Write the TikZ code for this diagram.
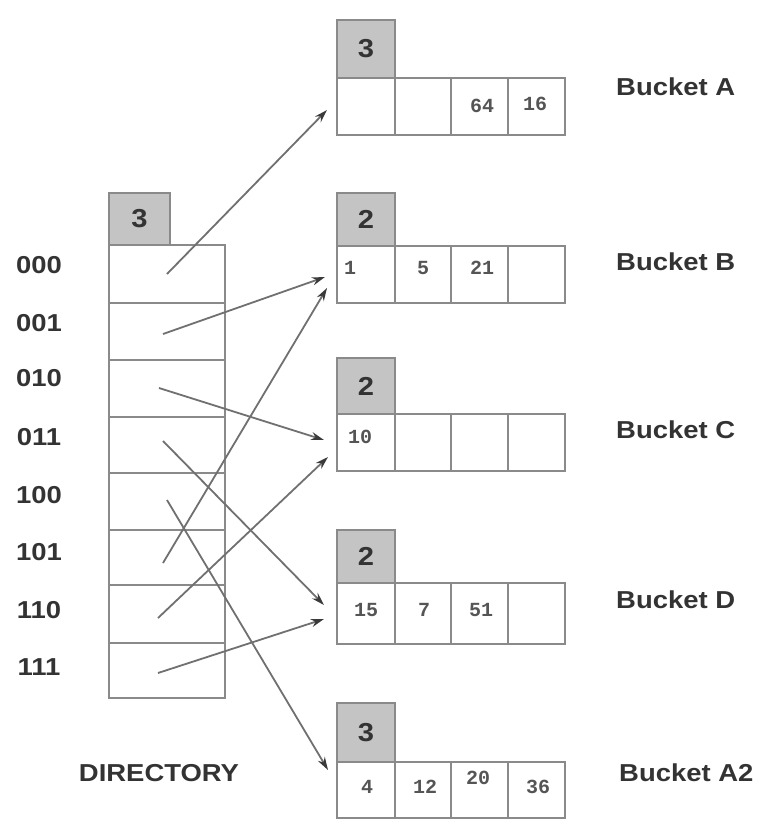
\documentclass[tikz,border=0pt]{standalone}
\usepackage{fontspec}
\setmainfont{Liberation Sans}[FakeStretch=1.12]
\newfontfamily\monof{Liberation Mono}
\usetikzlibrary{arrows.meta}
\definecolor{boxline}{HTML}{8A8A8A}
\definecolor{boxfill}{HTML}{C4C4C4}
\definecolor{arrowc}{HTML}{707070}
\definecolor{tipc}{HTML}{3A3A3A}
\definecolor{numc}{HTML}{555555}
\definecolor{txtc}{HTML}{333333}
\newcommand\mkbucket[5]{% name, gray top, cell top, cell bottom, level
  \pgfmathsetmacro{\gh}{#3-#2}\pgfmathsetmacro{\ch}{#4-#3}
  \node[graybox,minimum width=58pt,minimum height=\gh pt,anchor=north west] (#1g) at (337,#2) {#5};
  \node[cellbox,minimum width=58pt,minimum height=\ch pt,anchor=north west] (#1c1) at (337,#3) {};
  \node[cellbox,minimum width=56pt,minimum height=\ch pt,anchor=north west] (#1c2) at (395,#3) {};
  \node[cellbox,minimum width=57pt,minimum height=\ch pt,anchor=north west] (#1c3) at (451,#3) {};
  \node[cellbox,minimum width=57pt,minimum height=\ch pt,anchor=north west] (#1c4) at (508,#3) {};
}
\begin{document}
\begin{tikzpicture}[x=1pt,y=-1pt,
  cellbox/.style={draw=boxline,line width=2.8pt,fill=white,rectangle,inner sep=0pt,outer sep=0pt},
  graybox/.style={draw=boxline,line width=2.8pt,fill=boxfill,rectangle,inner sep=0pt,outer sep=0pt,
     font=\fontsize{26}{26}\selectfont\bfseries,text=txtc},
  num/.style={font=\monof\fontsize{20}{20}\selectfont\bfseries,text=numc,inner sep=0pt},
  lbl/.style={font=\fontsize{24.5}{24.5}\selectfont\bfseries,text=txtc,inner sep=0pt},
  ptr/.style={draw=arrowc,line width=1.8pt,-{Stealth[length=13pt,width=8pt,color=tipc]}}]
\useasboundingbox (0,0) rectangle (767,836);
% ---------- directory ----------
\node[graybox,minimum width=61pt,minimum height=52pt,anchor=north west] (dg) at (109,193) {3};
\foreach \i/\ya/\yb in {0/245/303,1/303/360,2/360/417,3/417/473,4/473/530,5/530/585,6/585/643,7/643/698}{
  \pgfmathsetmacro{\h}{\yb-\ya}
  \node[cellbox,minimum width=116pt,minimum height=\h pt,anchor=north west] (d\i) at (109,\ya) {};
}
\foreach \i/\t/\y in {0/000/265,1/001/323,2/010/378,3/011/437,4/100/495,5/101/552,6/110/610,7/111/667}{
  \node[lbl] (r\i) at (39,\y) {\t};
}
\node[lbl] (dirlbl) at (159,773) {DIRECTORY};
% ---------- buckets ----------
\mkbucket{A}{20}{78}{135}{3}
\mkbucket{B}{193}{246}{303}{2}
\mkbucket{C}{358}{414}{471}{2}
\mkbucket{D}{530}{583}{644}{2}
\mkbucket{E}{703}{762}{818}{3}
\node[lbl,anchor=west] (la) at (616,87) {Bucket A};
\node[lbl,anchor=west] (lb) at (616,262) {Bucket B};
\node[lbl,anchor=west] (lc) at (616,430) {Bucket C};
\node[lbl,anchor=west] (ld) at (616,600) {Bucket D};
\node[lbl,anchor=west] (le) at (619,773) {Bucket A2};
% ---------- contents ----------
\node[num] (nA3) at (482,106) {64};
\node[num] (nA4) at (535,104) {16};
\node[num] (nB1) at (350,268) {1};
\node[num] (nB2) at (423,268) {5};
\node[num] (nB3) at (482,268) {21};
\node[num] (nC1) at (360,437) {10};
\node[num] (nD1) at (366,610) {15};
\node[num] (nD2) at (424,610) {7};
\node[num] (nD3) at (481,610) {51};
\node[num] (nE1) at (367,787) {4};
\node[num] (nE2) at (425,787) {12};
\node[num] (nE3) at (478,778) {20};
\node[num] (nE4) at (538,787) {36};
% ---------- pointers ----------
\coordinate (s0) at (167,274); \coordinate (t0) at (327,110);
\coordinate (s1) at (163,334); \coordinate (t1) at (325,277);
\coordinate (s2) at (159,388); \coordinate (t2) at (324,440);
\coordinate (s3) at (163,441); \coordinate (t3) at (324,605);
\coordinate (s4) at (167,500); \coordinate (t4) at (328,770);
\coordinate (s5) at (163,563); \coordinate (t5) at (327,288);
\coordinate (s6) at (158,618); \coordinate (t6) at (328,457);
\coordinate (s7) at (158,673); \coordinate (t7) at (324,619);
\foreach \i in {0,...,7}{ \draw[ptr] (s\i) -- (t\i); }
\end{tikzpicture}
\end{document}
